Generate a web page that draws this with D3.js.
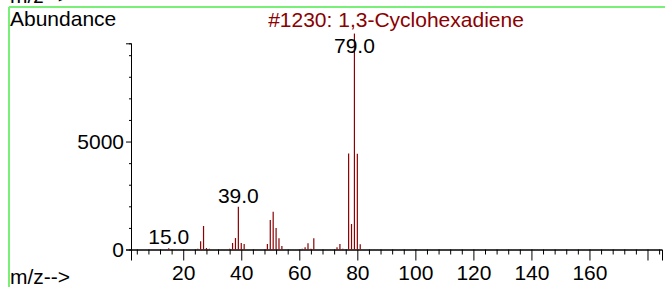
<!DOCTYPE html>
<html>
<head>
<meta charset="utf-8">
<script src="https://cdn.jsdelivr.net/npm/d3@7"></script>
<style>
  body { margin: 0; background: #fff; }
  text { font-family: "Liberation Sans", Arial, sans-serif; }
</style>
</head>
<body>
<svg id="spec" width="665" height="287"></svg>
<script>
// spectrum values
var mz    = [15, 25, 26, 27, 28, 29, 36, 37, 38, 39, 40, 41, 49, 50, 51, 52, 53, 54, 61, 62, 63, 64, 65, 73, 74, 75, 77, 78, 79, 80, 81];
var abund = [60, 40, 380, 1090, 70, 40, 40, 300, 530, 1980, 300, 250, 250, 1370, 1750, 1000, 520, 160, 40, 100, 290, 40, 520, 100, 255, 40, 4450, 1180, 10000, 4430, 240];
var peakLabels = [15, 39, 79];

var xMajor = [20, 40, 60, 80, 100, 120, 140, 160, 180];
var yMajor = [0, 5000];
var title = "#1230: 1,3-Cyclohexadiene";

var data = mz.map(function(m, i) { return {mz: m, value: abund[i]}; });

var svg = d3.select("#spec");
var red = "#8b0000";
var fs = 21;

var x = d3.scaleLinear().domain([2, 185]).range([131, 662]);
var y = d3.scaleLinear().domain([0, 9550]).range([249.5, 43.3]);

// green frame
svg.append("line").attr("x1", 9).attr("x2", 665).attr("y1", 7).attr("y2", 7).attr("stroke", "#78f078").attr("stroke-width", 2);
svg.append("line").attr("x1", 9).attr("x2", 9).attr("y1", 7).attr("y2", 287).attr("stroke", "#78f078").attr("stroke-width", 2);

// the top one is cut by the edge, same as the original
svg.append("text").attr("x", 10).attr("y", 3).attr("font-size", fs).text("m/z-->");
svg.append("text").attr("x", 10).attr("y", 26).attr("font-size", fs).text("Abundance");
svg.append("text").attr("x", 10).attr("y", 284).attr("font-size", fs).text("m/z-->");
svg.append("text").attr("x", 396).attr("y", 27).attr("text-anchor", "middle").attr("font-size", fs).attr("fill", red).text(title);

// minor ticks every 4 on x, every 1000 on y
var xMinor = d3.range(4, 186, 4).filter(function(v) { return v % 20 != 0; });
var yMinor = d3.range(1000, 10000, 1000).filter(function(v) { return v != 5000; });

var xa = svg.append("g").attr("transform", "translate(0," + y(0) + ")");
xa.append("g").call(d3.axisBottom(x).tickValues(xMinor).tickSize(5).tickFormat(""));
xa.append("g").call(d3.axisBottom(x).tickValues(xMajor).tickSize(11).tickPadding(5)
    .tickFormat(function(d) { return d == 180 ? "" : d; }));
xa.selectAll("text").attr("font-size", fs).attr("fill", "#000");

var ya = svg.append("g").attr("transform", "translate(" + x(2) + ",0)");
ya.append("g").call(d3.axisLeft(y).tickValues(yMinor).tickSize(2).tickFormat(""));
ya.append("g").call(d3.axisLeft(y).tickValues(yMajor).tickSize(5).tickPadding(2).tickFormat(d3.format("d")));
ya.selectAll("text").attr("font-size", fs).attr("fill", "#000");

svg.selectAll(".domain").attr("stroke", "#000");
svg.selectAll(".tick line").attr("stroke", "#000");

// bars
svg.selectAll(".bar").data(data).enter().append("line").attr("class", "bar")
    .attr("x1", function(d) { return x(d.mz); }).attr("x2", function(d) { return x(d.mz); })
    .attr("y1", y(0)).attr("y2", function(d) { return y(d.value); })
    .attr("stroke", red).attr("stroke-width", 1.2);

svg.selectAll(".plabel").data(data.filter(function(d) { return peakLabels.indexOf(d.mz) >= 0; }))
    .enter().append("text").attr("class", "plabel")
    .attr("x", function(d) { return x(d.mz); })
    .attr("y", function(d) { return Math.max(y(d.value) - 4, 53); })
    .attr("text-anchor", "middle").attr("font-size", fs)
    .text(function(d) { return d.mz.toFixed(1); });
</script>
</body>
</html>
